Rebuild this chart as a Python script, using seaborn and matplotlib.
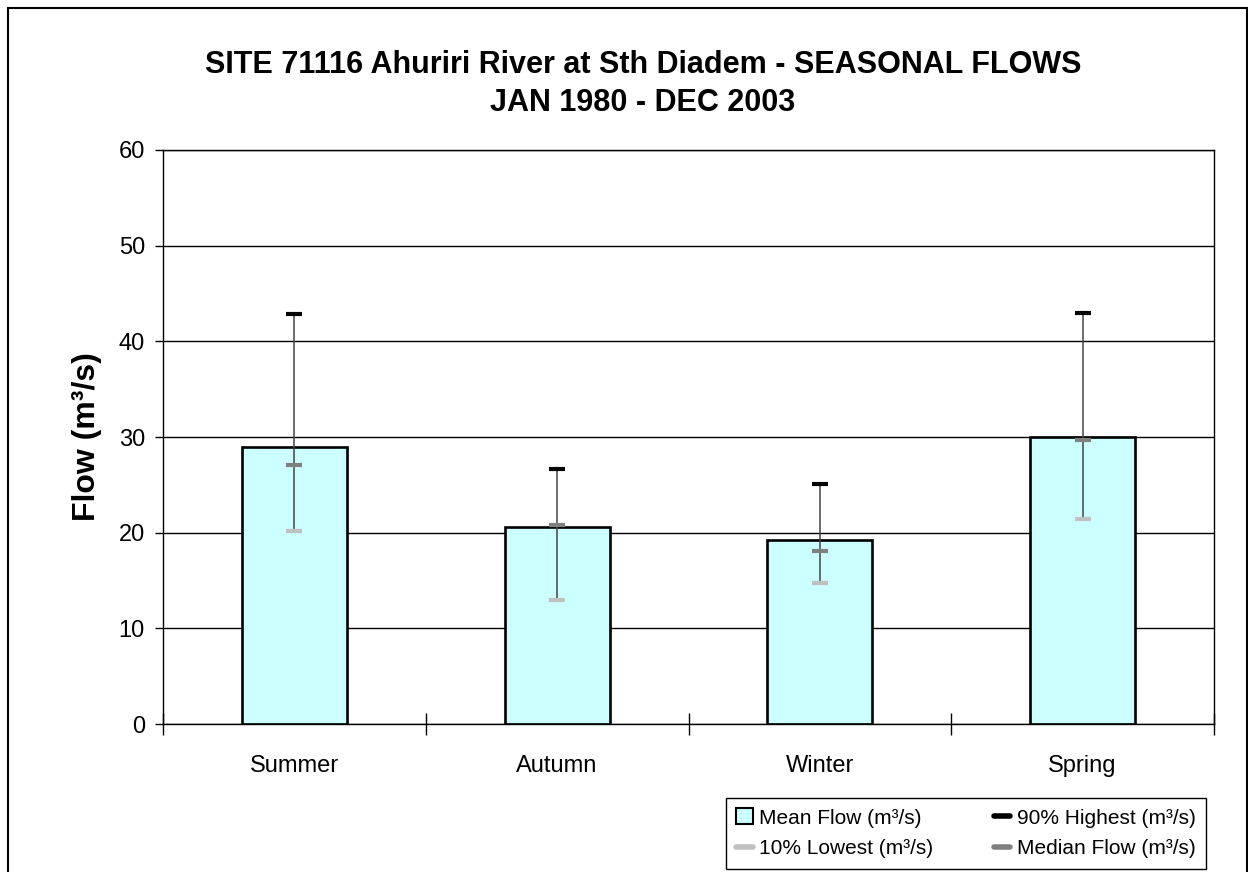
import matplotlib
matplotlib.use("Agg")
import matplotlib.pyplot as plt
from matplotlib.patches import Patch, Rectangle
from matplotlib.lines import Line2D
import seaborn as sns
import pandas as pd

seasons = ["Summer", "Autumn", "Winter", "Spring"]
mean_flow = [29.0, 20.6, 19.2, 30.0]
high90 = [42.9, 26.7, 25.1, 43.0]
median_flow = [27.1, 20.8, 18.1, 29.7]
low10 = [20.2, 13.0, 14.7, 21.4]
yticks = [0, 10, 20, 30, 40, 50, 60]

title = "SITE 71116 Ahuriri River at Sth Diadem - SEASONAL FLOWS\nJAN 1980 - DEC 2003"
ylabel = "Flow (m³/s)"
legend_labels = ["Mean Flow (m³/s)", "10% Lowest (m³/s)", "90% Highest (m³/s)", "Median Flow (m³/s)"]

sns.set_style("white")
plt.rcParams["font.family"] = ["Liberation Sans", "DejaVu Sans"]
plt.rcParams["text.color"] = "black"
plt.rcParams["axes.labelcolor"] = "black"
plt.rcParams["xtick.color"] = "black"
plt.rcParams["ytick.color"] = "black"

W, H = 1248, 872
fig = plt.figure(figsize=(W / 100, H / 100), dpi=100)
ax = fig.add_axes([163 / W, 1 - 724 / H, (1214 - 163) / W, (724 - 150) / H])

df = pd.DataFrame({"season": seasons, "mean": mean_flow, "high": high90,
                   "median": median_flow, "low": low10})

ax.set_axisbelow(True)
sns.barplot(data=df, x="season", y="mean", color="#CCFFFF", saturation=1,
            edgecolor="black", linewidth=1.9, width=0.4, ax=ax, zorder=2)

xs = list(range(len(seasons)))
ax.vlines(xs, df["low"], df["high"], color="#444444", lw=1.1, zorder=3)
ax.plot(xs, df["high"], ls="none", marker="_", ms=11.5, mew=3.0, color="black", zorder=4)
ax.plot(xs, df["median"], ls="none", marker="_", ms=11.5, mew=3.0, color="#808080", zorder=4)
ax.plot(xs, df["low"], ls="none", marker="_", ms=11.5, mew=3.0, color="#C0C0C0", zorder=4)

ax.set_xlim(-0.5, len(seasons) - 0.5)
ax.set_ylim(0, 60)
ax.set_yticks(yticks)
ax.yaxis.grid(True, color="black", lw=1.0)
ax.xaxis.grid(False)
for s in ax.spines.values():
    s.set_visible(True)
    s.set_color("black")
    s.set_linewidth(1.0)

ax.tick_params(axis="y", which="major", direction="out", length=6, width=1,
               color="black", labelcolor="black", labelsize=17, pad=7, left=True)
ax.set_xticks(xs)
ax.set_xticklabels(seasons)
ax.tick_params(axis="x", which="major", length=0, labelsize=17, pad=22,
               labelcolor="black")
ax.set_xticks([x - 0.5 for x in range(len(seasons) + 1)], minor=True)
ax.tick_params(axis="x", which="minor", direction="inout", length=16, width=1,
               color="black", bottom=True)
ax.set_xlabel("")
ax.set_ylabel(ylabel, fontsize=23, fontweight="bold", labelpad=12, color="black")

fig.text(643 / W, 1 - 84 / H, title, ha="center", va="center", fontsize=22,
         fontweight="bold", linespacing=1.33, color="black")

handles = [
    Patch(facecolor="#CCFFFF", edgecolor="black", lw=1.5),
    Line2D([], [], color="#C0C0C0", lw=4),
    Line2D([], [], color="black", lw=4),
    Line2D([], [], color="#808080", lw=4),
]
leg = fig.legend(handles, legend_labels, ncol=2, loc="upper right",
                 bbox_to_anchor=(1206 / W, 1 - 798 / H), fontsize=15,
                 frameon=True, fancybox=False, edgecolor="black", framealpha=1,
                 handlelength=0.8, handleheight=0.8, handletextpad=0.3,
                 columnspacing=2.9, borderaxespad=0, borderpad=0.5,
                 labelspacing=0.55)
leg.get_frame().set_linewidth(1.0)
for t in leg.get_texts():
    t.set_color("black")

fig.patches.append(Rectangle((8 / W, -0.1), (1247 - 8) / W, 1 - 8 / H + 0.1,
                             transform=fig.transFigure, fill=False,
                             edgecolor="black", lw=1.5))

fig.savefig("out.png", dpi=100)
